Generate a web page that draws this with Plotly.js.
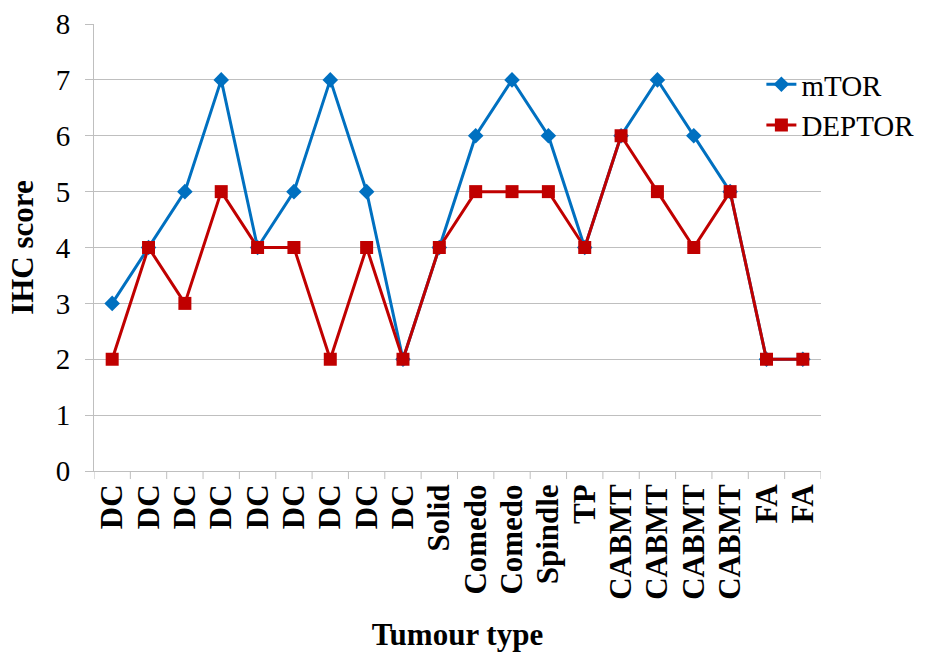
<!DOCTYPE html>
<html>
<head>
<meta charset="utf-8">
<script src="https://cdn.plot.ly/plotly-3.0.1.min.js"></script>
<style>html,body{margin:0;padding:0;background:#fff;}#chart{width:931px;height:653px;}</style>
</head>
<body>
<div id="chart"></div>
<div id="note" style="position:absolute;left:0;top:0;width:1px;height:1px;overflow:hidden;"></div>
<script>
var categories = ["DC","DC","DC","DC","DC","DC","DC","DC","DC","Solid","Comedo","Comedo","Spindle","TP","CABMT","CABMT","CABMT","CABMT","FA","FA"];
var mtorValues = [3,4,5,7,4,5,7,5,2,4,6,7,6,4,6,7,6,5,2,2];
var deptorValues = [2,4,3,5,4,4,2,4,2,4,5,5,5,4,6,5,4,5,2,2];
var yTicks = [0,1,2,3,4,5,6,7,8];

var FONT = "Liberation Serif";
var idx = categories.map(function(_, i){ return i; });

var traces = [
  {x: idx, y: mtorValues, name: "mTOR", type: "scatter", mode: "lines+markers",
   line: {color: "#0070C0", width: 3}, marker: {symbol: "diamond", size: 12, color: "#0070C0"}},
  {x: idx, y: deptorValues, name: "DEPTOR", type: "scatter", mode: "lines+markers",
   line: {color: "#C00000", width: 3}, marker: {symbol: "square", size: 13, color: "#C00000"}}
];

var layout = {
  width: 931, height: 653,
  margin: {l: 94, r: 109, t: 24, b: 182},
  paper_bgcolor: "#fff", plot_bgcolor: "#fff",
  font: {family: FONT, color: "#000"},
  showlegend: true,
  legend: {x: 0.918, y: 0.922, xanchor: "left", yanchor: "top", bgcolor: "rgba(0,0,0,0)",
           font: {size: 29, family: FONT}, tracegroupgap: 0},
  xaxis: {
    range: [-0.5, categories.length - 0.5],
    tickmode: "array", tickvals: idx, ticktext: categories.map(function(c){ return "<b>" + c + "</b>"; }),
    tickangle: -90, tickfont: {size: 31, family: FONT},
    showgrid: false, showline: true, linecolor: "#bfbfbf", linewidth: 1,
    ticks: "", zeroline: false,
    title: {text: "<b>Tumour type</b>", font: {size: 31, family: FONT}, standoff: 24}
  },
  yaxis: {
    range: [0, 8], tickmode: "array", tickvals: yTicks,
    tickfont: {size: 29, family: FONT},
    showgrid: true, gridcolor: "#bfbfbf", gridwidth: 1.3,
    showline: true, linecolor: "#bfbfbf", linewidth: 1,
    ticks: "outside", ticklen: 8, tickcolor: "#bfbfbf", zeroline: false,
    ticklabelstandoff: 9,
    title: {text: "<b>IHC score</b>", font: {size: 31, family: FONT}, standoff: 12}
  },
  shapes: []
};

for (var i = 0; i <= categories.length; i++) {
  layout.shapes.push({type: "line", xref: "x", yref: "paper", x0: i - 0.5, x1: i - 0.5, y0: 0, y1: -0.018,
    line: {color: "#bfbfbf", width: 1}});
}

function refresh() {
  var t = document.querySelector('.ytick text');
  document.getElementById('note').setAttribute('data-f', t ? getComputedStyle(t).fontFamily : '');
  Plotly.relayout("chart", {"legend.x": layout.legend.x});
}

Plotly.newPlot("chart", traces, layout, {displayModeBar: false}).then(function(){
  refresh();
  if (document.fonts && document.fonts.ready) {
    document.fonts.ready.then(refresh);
  }
  setTimeout(refresh, 150);
});
</script>
</body>
</html>
